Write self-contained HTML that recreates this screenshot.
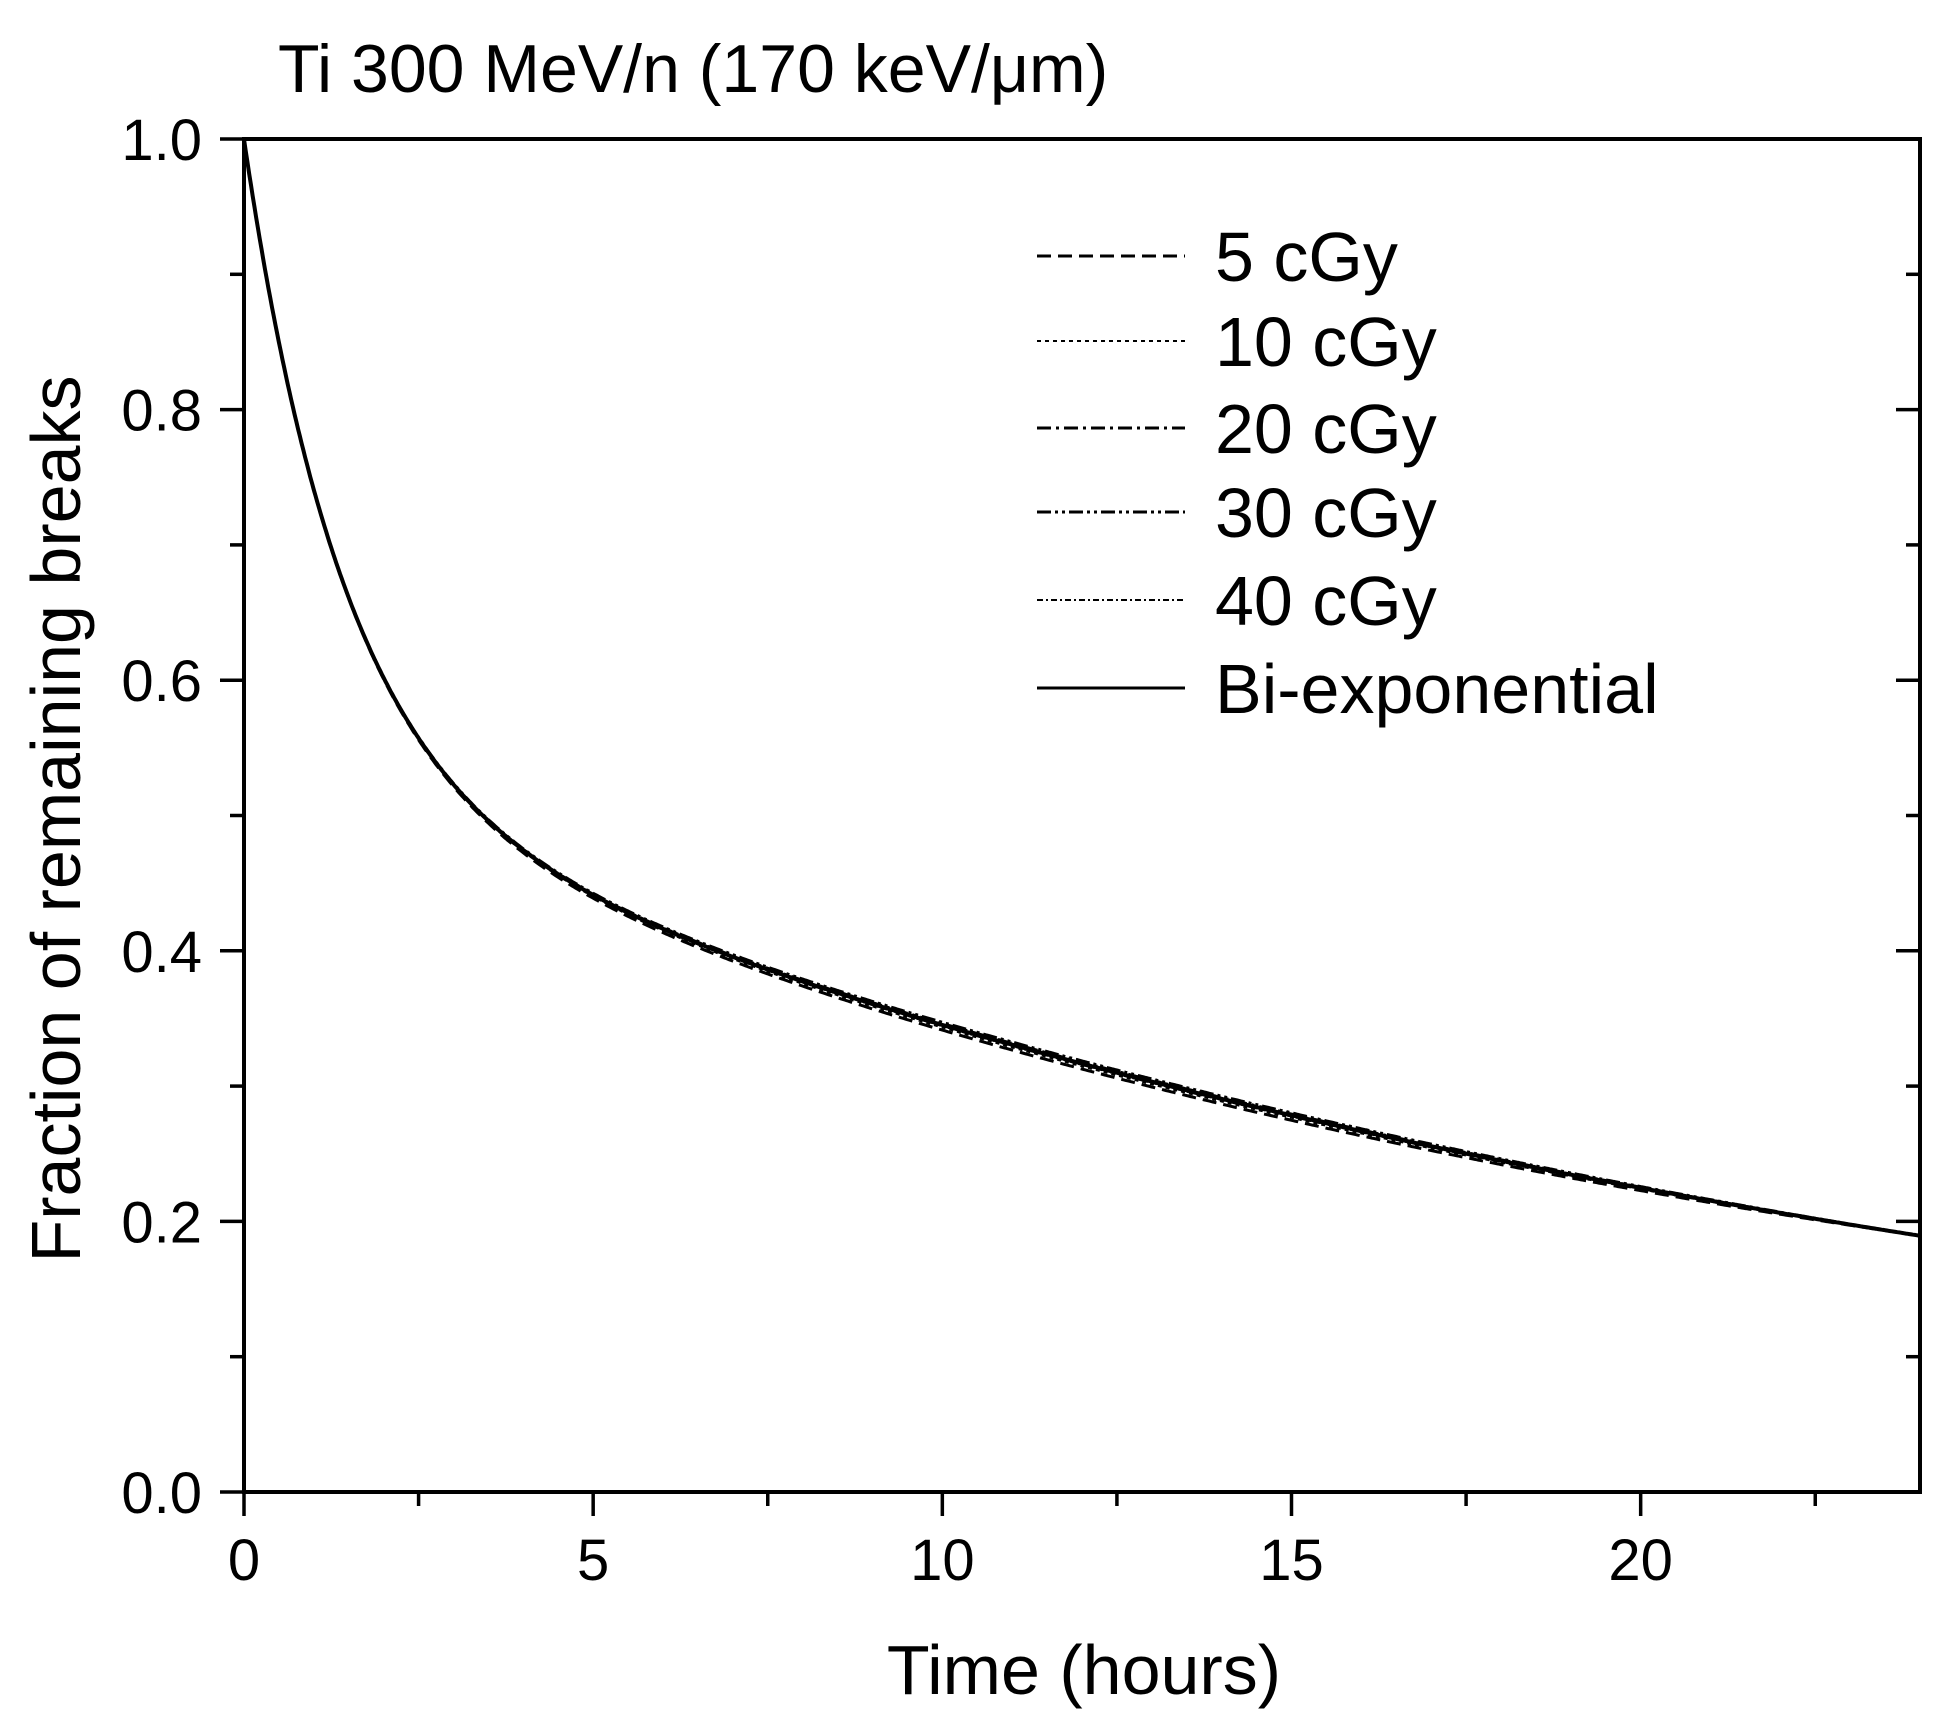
<!DOCTYPE html>
<html><head><style>html,body{margin:0;padding:0;background:#fff}svg{display:block}text{font-family:"Liberation Sans",Arial,sans-serif;fill:#000}</style></head>
<body>
<svg width="1954" height="1728" viewBox="0 0 1954 1728" xmlns="http://www.w3.org/2000/svg">
<text x="278" y="92" font-size="68">Ti 300 MeV/n (170 keV/μm)</text>
<g id="curves" fill="none" stroke="#000"></g>
<rect x="244" y="139" width="1676" height="1353" fill="none" stroke="#000" stroke-width="4"/>
<g id="ticks" stroke="#000" stroke-width="3.5"></g>
<g id="labels" font-size="58"></g>
<text x="1084" y="1694" font-size="70" text-anchor="middle">Time (hours)</text>
<text transform="translate(80,819) rotate(-90)" font-size="70" text-anchor="middle">Fraction of remaining breaks</text>
<g font-size="70">
<line x1="1037" y1="256" x2="1185" y2="256" stroke="#000" stroke-width="3" stroke-dasharray="14,7"/><text x="1215" y="281">5 cGy</text>
<line x1="1037" y1="341" x2="1185" y2="341" stroke="#000" stroke-width="2" stroke-dasharray="4,4"/><text x="1215" y="366">10 cGy</text>
<line x1="1037" y1="428" x2="1185" y2="428" stroke="#000" stroke-width="3" stroke-dasharray="14,5,3,5"/><text x="1215" y="453">20 cGy</text>
<line x1="1037" y1="512" x2="1185" y2="512" stroke="#000" stroke-width="3" stroke-dasharray="14,4,3,4,3,4"/><text x="1215" y="537">30 cGy</text>
<line x1="1037" y1="600" x2="1185" y2="600" stroke="#000" stroke-width="2" stroke-dasharray="6,3,2,3"/><text x="1215" y="625">40 cGy</text>
<line x1="1037" y1="688" x2="1185" y2="688" stroke="#000" stroke-width="3"/><text x="1215" y="713">Bi-exponential</text>
</g>
</svg>
<script>
const L=244,T=139,R=1920,B=1492,NS="http://www.w3.org/2000/svg";
const X=t=>L+t*(R-L)/24, Y=v=>B-v*(B-T);
function el(p,tag,a,txt){const e=document.createElementNS(NS,tag);for(const k in a)e.setAttribute(k,a[k]);if(txt!=null)e.textContent=txt;document.getElementById(p).appendChild(e);}
const f=(t,d)=>0.529*Math.exp(-0.0428*t)+0.471*Math.exp(-0.70*t)+d*Math.sin(t/24*Math.PI);
const dashes=[["14,7",3,-0.004],["4,4",2,-0.002],["14,5,3,5",3,0.001],["14,4,3,4,3,4",3,0.002],["6,3,2,3",2,-0.001],["",4,0]];
for(const [da,w,d] of dashes){let p="";for(let i=0;i<=960;i++){const t=i*24/960;p+=(i?"L":"M")+X(t).toFixed(1)+","+Y(f(t,d)).toFixed(1);}
const a={d:p,"stroke-width":w};if(da)a["stroke-dasharray"]=da;el("curves","path",a);}
for(let i=0;i<=10;i++){const y=Y(i/10),maj=i%2==0,len=maj?24:14;
el("ticks","line",{x1:L-len,y1:y,x2:L,y2:y});el("ticks","line",{x1:R-len,y1:y,x2:R,y2:y});
if(maj)el("labels","text",{x:202,y:y+21,"text-anchor":"end"},(i/10).toFixed(1));}
for(let i=0;i<=9;i++){const t=i*2.5,x=X(t),maj=i%2==0,len=maj?24:14;
el("ticks","line",{x1:x,y1:B,x2:x,y2:B+len});if(maj)el("labels","text",{x:x,y:1580,"text-anchor":"middle"},String(t));}
</script>
</body></html>
